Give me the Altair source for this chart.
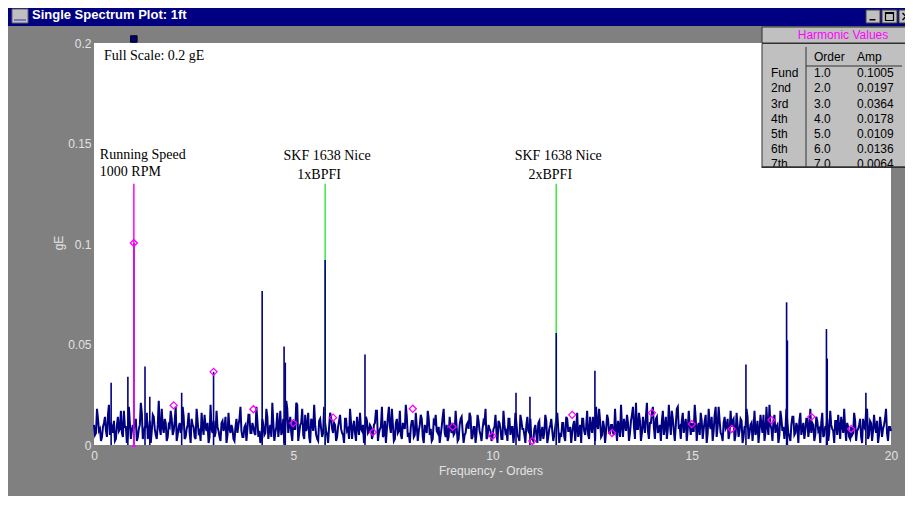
import altair as alt
import pandas as pd

# ---------------- data ----------------
# spectrum floor in milli-gE, lines at orders 0.00, 0.05, ..., 20.00
noise_a_mgE = [
    10, 6, 13, 8, 4, 11, 7, 15, 5, 9, 12, 3, 14, 8, 6, 17, 9, 5, 11, 7,
    8, 13, 4, 10, 16, 6, 9, 3, 12, 7, 14, 5, 10, 8, 18, 6, 11, 4, 9, 13,
    7, 19, 5, 11, 8, 14, 4, 10, 6, 13, 9, 3, 12, 7, 16, 5, 9, 11, 4, 8,
    12, 6, 9, 4, 11, 7, 14, 5, 8, 10, 3, 9, 6, 13, 7, 4, 10, 8, 15, 6,
    9, 5, 12, 7, 3, 10, 6, 14, 8, 4, 11, 6, 16, 9, 5, 13, 7, 18, 10, 6,
    12, 8, 20, 6, 11, 5, 15, 9, 4, 13, 7, 10, 3, 12, 8, 6, 11, 5, 9, 14,
    6, 10, 4, 12, 8, 5, 13, 7, 3, 11, 9, 6, 14, 5, 8, 10, 4, 12, 7, 9,
    5, 11, 17, 6, 9, 4, 12, 8, 19, 6, 10, 3, 13, 7, 5, 11, 8, 14, 6, 9,
    12, 5, 9, 7, 15, 4, 10, 6, 13, 8, 3, 11, 7, 9, 5, 14, 6, 10, 4, 8,
    11, 6, 9, 3, 13, 7, 5, 10, 8, 14, 4, 9, 6, 12, 5, 8, 11, 3, 10, 7,
    4, 9, 6, 12, 8, 3, 10, 7, 13, 5, 9, 6, 11, 4, 15, 8, 5, 10, 7, 13,
    3, 8, 5, 11, 2, 9, 6, 12, 4, 10, 7, 5, 13, 8, 6, 11, 4, 14, 7, 9,
    6, 12, 8, 4, 10, 13, 7, 9, 5, 14, 6, 11, 19, 8, 12, 5, 9, 7, 13, 6,
    10, 5, 8, 12, 4, 9, 13, 7, 11, 6, 15, 9, 21, 8, 12, 6, 10, 14, 7, 11,
    16, 9, 13, 6, 10, 12, 5, 14, 8, 11, 17, 7, 10, 19, 9, 12, 6, 13, 8, 10,
    11, 7, 13, 9, 5, 12, 8, 15, 6, 10, 14, 7, 19, 9, 12, 5, 11, 8, 13, 6,
    9, 13, 5, 10, 7, 12, 4, 9, 14, 6, 11, 8, 5, 12, 7, 10, 15, 6, 9, 20,
    8, 12, 6, 10, 5, 13, 9, 7, 11, 4, 10, 14, 6, 9, 12, 5, 11, 7, 13, 8,
    6, 10, 5, 12, 8, 11, 4, 9, 13, 6, 10, 7, 12, 5, 9, 14, 6, 8, 11, 4,
    9, 6, 12, 7, 10, 4, 13, 8, 18, 5, 11, 7, 9, 12, 5, 10, 8, 13, 6, 9,
    7,
]
# in-between lines at orders 0.025, 0.075, ..., 19.975 (narrow spikes and dips)
noise_b_mgE = [
    5, 18, 7, 2, 9, 14, 4, 20, 11, 6, 2, 10, 7, 17, 4, 9, 1, 19, 3, 10,
    11, 2, 8, 21, 3, 9, 16, 6, 1, 15, 8, 3, 22, 5, 9, 13, 2, 10, 17, 5,
    12, 2, 9, 6, 19, 3, 8, 16, 1, 10, 4, 18, 6, 2, 9, 15, 7, 1, 20, 6,
    4, 17, 7, 2, 12, 9, 1, 16, 6, 8, 2, 13, 10, 19, 4, 9, 2, 15, 6, 11,
    6, 19, 4, 1, 13, 5, 18, 3, 10, 21, 2, 9, 4, 17, 7, 1, 22, 6, 14, 2,
    8, 21, 2, 10, 18, 3, 7, 16, 1, 12, 20, 5, 2, 13, 4, 19, 7, 1, 16, 8,
    11, 2, 9, 15, 6, 1, 13, 8, 18, 3, 12, 2, 9, 16, 7, 1, 14, 6, 10, 3,
    10, 17, 2, 8, 19, 5, 1, 14, 9, 18, 2, 11, 6, 17, 3, 9, 20, 4, 1, 12,
    4, 16, 2, 10, 13, 1, 8, 17, 5, 2, 12, 15, 6, 1, 9, 18, 4, 2, 14, 6,
    5, 17, 2, 10, 14, 1, 6, 11, 16, 3, 9, 1, 15, 7, 2, 12, 18, 4, 8, 2,
    8, 15, 1, 11, 3, 17, 6, 2, 13, 9, 1, 16, 5, 2, 12, 8, 1, 14, 6, 3,
    2, 10, 1, 12, 6, 3, 15, 1, 8, 13, 2, 9, 16, 1, 4, 11, 2, 13, 7, 1,
    10, 2, 16, 7, 1, 13, 5, 17, 3, 9, 14, 2, 10, 18, 4, 12, 1, 15, 6, 10,
    6, 18, 2, 9, 20, 4, 10, 15, 2, 12, 19, 3, 8, 16, 2, 14, 6, 21, 3, 11,
    19, 3, 14, 8, 2, 17, 9, 3, 20, 5, 13, 2, 18, 8, 3, 16, 10, 2, 17, 5,
    7, 20, 2, 11, 16, 3, 12, 1, 18, 8, 2, 15, 4, 19, 6, 2, 14, 9, 3, 17,
    12, 2, 16, 4, 13, 1, 9, 18, 3, 10, 2, 17, 7, 1, 15, 6, 2, 19, 5, 10,
    2, 15, 9, 1, 17, 7, 3, 18, 6, 2, 14, 5, 11, 1, 16, 8, 3, 13, 4, 18,
    11, 2, 14, 7, 1, 16, 5, 9, 2, 17, 8, 1, 12, 15, 3, 10, 18, 2, 9, 3,
    5, 16, 2, 8, 13, 1, 9, 17, 3, 12, 2, 15, 6, 1, 14, 4, 10, 18, 2, 9,
]
line_step = 0.05  # order spacing of each set of spectrum lines

# discrete spectral peaks (order, gE)
peak_orders = [0.43, 0.85, 1.0, 1.28, 1.40, 2.20, 3.0, 4.22, 4.77, 4.80, 5.8,
               6.8, 10.59, 10.94, 11.6, 12.57, 16.36, 17.38, 17.40, 18.38, 18.40, 19.37]
peak_amps = [0.031, 0.034, 0.1005, 0.039, 0.024, 0.026, 0.0364, 0.0766, 0.049, 0.041, 0.092,
             0.045, 0.026, 0.024, 0.0557, 0.037, 0.040, 0.071, 0.052, 0.0577, 0.043, 0.026]

# harmonic markers
harm_orders = [1.0, 2.0, 3.0, 4.0, 5.0, 6.0, 7.0, 8.0, 9.0, 10.0,
               11.0, 12.0, 13.0, 14.0, 15.0, 16.0, 17.0, 18.0, 19.0]
harm_amps = [0.1005, 0.0197, 0.0364, 0.0178, 0.0109, 0.0136, 0.0064, 0.0180, 0.0090, 0.0045,
             0.0020, 0.0150, 0.0060, 0.0160, 0.0104, 0.0080, 0.0124, 0.0140, 0.0080]
harm_labels = ["Fund", "2nd", "3rd", "4th", "5th", "6th", "7th"]

# fault-frequency / running-speed cursors
bpfi_orders = [5.8, 11.6]
bpfi_names = ["1xBPFI", "2xBPFI"]
bpfi_top = [0.13, 0.13]
speed_order = [1.0]
speed_top = [0.13]

x_ticks = [0, 5, 10, 15, 20]
y_ticks = [0, 0.05, 0.1, 0.15, 0.2]

# ---------------- tables ----------------
orders = [i * line_step for i in range(len(noise_a_mgE))] + \
         [line_step / 2 + i * line_step for i in range(len(noise_b_mgE))]
amps = [v / 1000 for v in noise_a_mgE] + [v / 1000 for v in noise_b_mgE]
spec = pd.DataFrame({"order": orders, "amp": amps}).sort_values("order")
peaks = pd.DataFrame({"order": peak_orders, "amp": peak_amps})
harms = pd.DataFrame({"order": harm_orders, "amp": harm_amps})
bpfi = pd.DataFrame({"order": bpfi_orders, "amp": bpfi_top, "name": bpfi_names})
speed = pd.DataFrame({"order": speed_order, "amp": speed_top})
one = pd.DataFrame({"k": [0]})

NAVY = "#000080"
MAG = "#ff00ff"
GREEN = "#3ee83e"
LABEL = "#e2e2e2"
UI = "Liberation Sans"
SERIF = "Liberation Serif"

xs = alt.Scale(domain=[0, 20], nice=False, zero=False)
ys = alt.Scale(domain=[0, 0.2], nice=False, zero=True)
xaxis = alt.Axis(values=x_ticks, title=None, ticks=False, domain=False, grid=False,
                 labelColor=LABEL, labelFont=UI, labelFontSize=12, labelPadding=5,
                 labelFlush=False, labelAngle=0)
yaxis = alt.Axis(values=y_ticks, format="~g", title=None, ticks=False, domain=False, grid=False,
                 labelColor=LABEL, labelFont=UI, labelFontSize=12, labelPadding=3)
X = alt.X("order:Q", scale=xs, axis=xaxis)
Y = alt.Y("amp:Q", scale=ys, axis=yaxis)


def rect(x1, x2, y1, y2, fill, stroke=None, sw=1.0):
    kw = dict(fill=fill)
    if stroke:
        kw.update(stroke=stroke, strokeWidth=sw)
    return alt.Chart(one).mark_rect(**kw).encode(
        x=alt.value(x1), x2=alt.value(x2), y=alt.value(y1), y2=alt.value(y2))


def seg(x1, x2, y1, y2, color="black", sw=1.5):
    return alt.Chart(one).mark_rule(color=color, strokeWidth=sw).encode(
        x=alt.value(x1), x2=alt.value(x2), y=alt.value(y1), y2=alt.value(y2))


def label(txt, x, y, size=12, color="black", font=UI, align="left",
          weight="normal", baseline="middle", angle=0, lh=None):
    kw = dict(align=align, baseline=baseline, font=font, fontSize=size,
              color=color, fontWeight=weight, angle=angle)
    if lh:
        kw["lineHeight"] = lh
    return alt.Chart(one).mark_text(**kw).encode(
        x=alt.value(x), y=alt.value(y), text=alt.value(txt))


# ---------------- data layers ----------------
noise_line = alt.Chart(spec).mark_line(color=NAVY, strokeWidth=2.0).encode(
    x=X, y=Y, order="order:Q")
bpfi_rules = alt.Chart(bpfi).mark_rule(color=GREEN, strokeWidth=1.5).encode(
    x=X, y=Y, y2=alt.datum(0))
peak_rules = alt.Chart(peaks).mark_rule(color=NAVY, strokeWidth=1.6).encode(
    x=X, y=Y, y2=alt.datum(0))
speed_rule = alt.Chart(speed).mark_rule(color=MAG, strokeWidth=1.5).encode(
    x=X, y=Y, y2=alt.datum(0))
speed_foot = alt.Chart(speed).mark_point(shape="triangle-up", filled=True, color=MAG,
                                         size=22, opacity=1).encode(x=X, y=alt.datum(0))
diamonds = alt.Chart(harms).mark_point(shape="diamond", filled=False, color=MAG,
                                       size=50, strokeWidth=1.3, opacity=1).encode(x=X, y=Y)
cursor_sq = alt.Chart(speed).mark_square(size=42, fill=NAVY, stroke="black",
                                         strokeWidth=1, opacity=1).encode(x=X, y=alt.value(-4))

speed_txt1 = alt.Chart(speed).mark_text(align="left", baseline="middle", font=SERIF,
                                        fontSize=14, color="black", dx=-34).encode(
    x=X, y=alt.value(112), text=alt.value("Running Speed"))
speed_txt2 = alt.Chart(speed).mark_text(align="left", baseline="middle", font=SERIF,
                                        fontSize=14, color="black", dx=-34).encode(
    x=X, y=alt.value(129), text=alt.value("1000 RPM"))
bpfi_txt1 = alt.Chart(bpfi).mark_text(align="center", baseline="middle", font=SERIF,
                                      fontSize=14, color="black", dx=2).encode(
    x=X, y=alt.value(113), text=alt.value("SKF 1638 Nice"))
bpfi_txt2 = alt.Chart(bpfi).mark_text(align="center", baseline="middle", font=SERIF,
                                      fontSize=14, color="black", dx=-6).encode(
    x=X, y=alt.value(132), text="name:N")

# ---------------- window chrome ----------------
title_bar = rect(-100, 830, -45, -17, NAVY)
icon = rect(-82, -66, -34, -20, "#c0c0c0", "#606060", 1)
icon_line = seg(-80, -68, -23, -23, "#3030c0", 1)
title_txt = label("Single Spectrum Plot: 1ft", -62, -28, size=13, color="white", weight="bold")
btn_min = rect(772, 786, -33, -20, "#c0c0c0", "#404040", 1)
btn_max = rect(788, 803, -33, -20, "#c0c0c0", "#404040", 1)
btn_cls = rect(805, 820, -33, -20, "#c0c0c0", "#404040", 1)
glyph_min = rect(775.5, 781.5, -24, -22.5, "black")
glyph_max = rect(791.5, 799.5, -30.5, -22.5, "none", "black", 1.2)
glyph_max_top = rect(791.5, 799.5, -30.5, -29, "black")
glyph_x1 = seg(808.5, 815.5, -30, -23)
glyph_x2 = seg(808.5, 815.5, -23, -30)

y_title = label("gE", -35.5, 200, size=12, color=LABEL, align="center", angle=270)
x_title = label("Frequency - Orders", 397, 428, size=12, color=LABEL, align="center")
full_scale = label("Full Scale: 0.2 gE", 10, 13, size=14, font=SERIF)

# ---------------- harmonic table ----------------
tbl_head = rect(668, 822, -16, 0, "#c0c0c0", "#303030", 1)
tbl_head_txt = label("Harmonic Values", 749, -8, size=12, color=MAG, align="center")
tbl_body = rect(668, 822, 0.5, 124, "#c0c0c0", "#303030", 1)
tbl_vdiv = rect(711.5, 712.5, 4, 124, "#303030")
tbl_hdiv = rect(712, 808, 22.5, 23.5, "#303030")
col_head_o = label("Order", 720, 14, size=12)
col_head_a = label("Amp", 763, 14, size=12)
col_lab = label(harm_labels, 677, 34.3, size=12, baseline="alphabetic", lh=15.2)
col_ord = label([f"{o:.1f}" for o in harm_orders[:7]], 720, 34.3, size=12,
                baseline="alphabetic", lh=15.2)
col_amp = label([f"{a:.4f}" for a in harm_amps[:7]], 763, 34.3, size=12,
                baseline="alphabetic", lh=15.2)
cover_white = rect(667.5, 797, 124.5, 134, "white")
cover_gray = rect(797, 823, 124.5, 134, "#808080")
tbl_bottom = rect(667.5, 823, 123.5, 125, "#303030")

chart = alt.layer(
    noise_line, bpfi_rules, peak_rules, speed_rule, speed_foot, diamonds,
    speed_txt1, speed_txt2, bpfi_txt1, bpfi_txt2, full_scale,
    cursor_sq,
    title_bar, icon, icon_line, title_txt,
    btn_min, btn_max, btn_cls, glyph_min, glyph_max, glyph_max_top, glyph_x1, glyph_x2,
    y_title, x_title,
    tbl_head, tbl_head_txt, tbl_body, tbl_vdiv, tbl_hdiv,
    col_head_o, col_head_a, col_lab, col_ord, col_amp,
    cover_white, cover_gray, tbl_bottom,
).properties(
    width=797, height=402,
    autosize=alt.AutoSizeParams(type="none"),
    padding={"left": 86, "top": 35, "right": 14, "bottom": 51},
    background="#808080",
).configure_view(fill="white", stroke=None)

chart.save("out.html", embed_options={"renderer": "svg", "actions": False})
